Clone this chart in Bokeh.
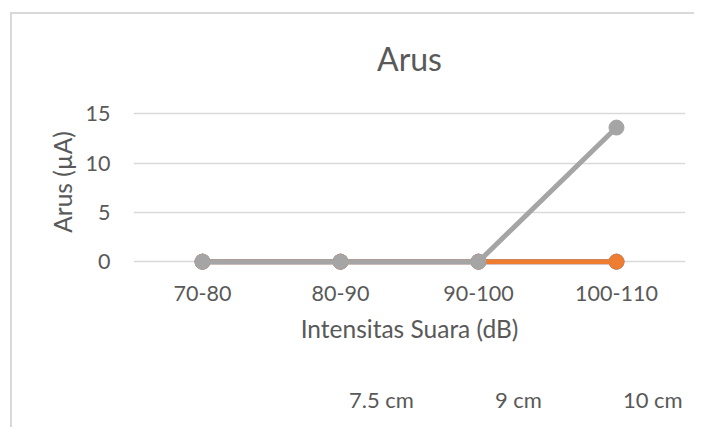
from bokeh.plotting import figure
from bokeh.layouts import column
from bokeh.models import Legend, LegendItem, FixedTicker, Range1d
from bokeh.embed import file_html
from bokeh.resources import INLINE

categories = ["70-80", "80-90", "90-100", "100-110"]
series_names = ["7.5 cm", "9 cm", "10 cm"]
s_75 = [0, 0, 0, 0]
s_9 = [0, 0, 0, 0]
s_10 = [0, 0, 0, 13.6]
colors = ["#4472C4", "#ED7D31", "#A5A5A5"]
y_ticks = [0, 5, 10, 15]

FONT = "Lato"
TXT = "#595959"

p = figure(x_range=categories, y_range=Range1d(-1.2, 17.36),
           frame_width=550, frame_height=181, margin=(12, 0, 0, 10),
           output_backend="svg", toolbar_location=None,
           min_border_left=121, min_border_right=11,
           min_border_top=76, min_border_bottom=75,
           title="Arus",
           styles={"border-left": "2px solid #d9d9d9", "border-top": "2px solid #d9d9d9"})

p.title.align = "center"
p.title.text_font = FONT
p.title.text_font_size = "32px"
p.title.text_font_style = "normal"
p.title.text_color = TXT
p.title.standoff = 26

p.outline_line_color = None
p.xgrid.grid_line_color = None
p.ygrid.grid_line_color = "#d9d9d9"
p.ygrid.grid_line_width = 1.3
p.yaxis.ticker = FixedTicker(ticks=y_ticks)

for ax in (p.xaxis[0], p.yaxis[0]):
    ax.axis_line_color = None
    ax.major_tick_line_color = None
    ax.minor_tick_line_color = None
    ax.major_label_text_font = FONT
    ax.major_label_text_font_size = "21.5px"
    ax.major_label_text_color = TXT
    ax.axis_label_text_font = FONT
    ax.axis_label_text_font_size = "24.5px"
    ax.axis_label_text_font_style = "normal"
    ax.axis_label_text_color = TXT

p.yaxis.axis_label = "Arus (µA)"
p.yaxis.major_label_standoff = 17
p.yaxis.axis_label_standoff = 6
p.xaxis.axis_label = "Intensitas Suara (dB)"
p.xaxis.major_label_standoff = 6
p.xaxis.axis_label_standoff = 10

for vals, c in zip([s_75, s_9, s_10], colors):
    p.line(categories, vals, line_color=c, line_width=5)
    p.scatter(categories, vals, size=15, fill_color=c, line_color=c)

# legend strip below the chart (same chart frame)
p2 = figure(width=682, height=81, margin=(0, 0, 0, 10),
            x_range=Range1d(0, 1), y_range=Range1d(0, 1),
            x_axis_location=None, y_axis_location=None,
            output_backend="svg", toolbar_location=None, min_border=0,
            styles={"border-left": "2px solid #d9d9d9"})
p2.outline_line_color = None
p2.xgrid.visible = False
p2.ygrid.visible = False

items = []
for name, c in zip(series_names, colors):
    lr = p2.line(x=[], y=[], line_color=c, line_width=5)
    sr = p2.scatter(x=[], y=[], size=15, fill_color=c, line_color=c)
    items.append(LegendItem(label=name, renderers=[lr, sr]))

legend = Legend(items=items, orientation="horizontal", location=(155, 14),
                label_text_font=FONT, label_text_font_size="22px",
                label_text_color=TXT, glyph_width=56, glyph_height=26,
                label_standoff=5, spacing=20, border_line_color=None,
                background_fill_alpha=0, margin=0, padding=0)
p2.add_layout(legend, "center")

layout = column(p, p2, spacing=0)
open("out.html", "w").write(file_html(layout, INLINE))
